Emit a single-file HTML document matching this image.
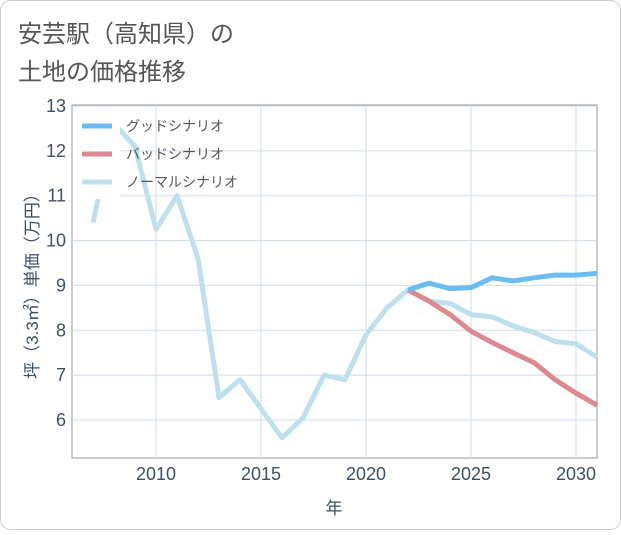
<!DOCTYPE html>
<html><head><meta charset="utf-8"><style>
body{margin:0;background:#fff;font-family:"Liberation Sans","Noto Sans CJK JP",sans-serif}
</style></head><body>
<svg width="621" height="530" xmlns="http://www.w3.org/2000/svg" style="font-family:'Liberation Sans','Noto Sans CJK JP',sans-serif">
<rect x="0.5" y="0.5" width="620" height="529" rx="10" fill="#fff" stroke="#ccc"/>
<text x="18" y="42" font-size="24" fill="#555">安芸駅（高知県）の</text>
<text x="18" y="80" font-size="24" fill="#555">土地の価格推移</text>
<g id="grid"></g><g id="lines"></g><g id="legend"></g>
<text transform="translate(38,282) rotate(-90)" text-anchor="middle" font-size="17" fill="#3d4f66">坪（3.3㎡）単価（万円）</text>
<text x="334" y="514" text-anchor="middle" font-size="17" fill="#3d4f66">年</text>
</svg>
<script>
const years=[2007,2008,2009,2010,2011,2012,2013,2014,2015,2016,2017,2018,2019,2020,2021,2022,2023,2024,2025,2026,2027,2028,2029,2030,2031];
const normal=[10.4,12.6,12.1,10.25,11.0,9.6,6.5,6.9,6.25,5.6,6.05,7.0,6.9,7.9,8.5,8.9,8.65,8.6,8.35,8.3,8.1,7.95,7.75,7.7,7.4];
const goodYears=[2022,2023,2024,2025,2026,2027,2028,2029,2030,2031];
const good=[8.9,9.05,8.93,8.95,9.17,9.1,9.17,9.23,9.23,9.27];
const bad=[8.9,8.65,8.35,7.98,7.73,7.5,7.28,6.9,6.6,6.33];
const yTicks=[6,7,8,9,10,11,12,13];
const xTicks=[2010,2015,2020,2025,2030];
const L=72,R=597,T=106,B=458;
const xs=y=>156+(y-2010)*21;
const ys=v=>420-(v-6)*(314/7);
const NS="http://www.w3.org/2000/svg";
function mk(p,t,a){const e=document.createElementNS(NS,t);for(const k in a)e.setAttribute(k,a[k]);p.appendChild(e);return e;}
const g=document.getElementById('grid');
const f=mk(g,'rect',{x:L,y:T-1,width:R-L,height:B-T+1,fill:'none',stroke:'#999'});


yTicks.forEach(v=>{const l=mk(g,'line',{x1:L,x2:R,y1:ys(v),y2:ys(v),stroke:'#cfdbe6'});


const t=mk(g,'text',{x:L-6,y:ys(v)+6,'text-anchor':'end','font-size':18,fill:'#3d4f66'});t.textContent=v;

});
xTicks.forEach(v=>{const l=mk(g,'line',{x1:xs(v),x2:xs(v),y1:T,y2:B,stroke:'#cfdbe6'});


const t=mk(g,'text',{x:xs(v),y:B+22,'text-anchor':'middle','font-size':18,fill:'#3d4f66'});t.textContent=v;

});
const ln=document.getElementById('lines');
function series(xv,yv,c,n){const p=mk(ln,'polyline',{points:xv.map((x,i)=>xs(x)+','+ys(yv[i])).join(' '),fill:'none',stroke:c,'stroke-width':5,'stroke-linejoin':'round'});

}
series(years,normal,'#bde0ec','normal-line');
series(goodYears,bad,'#dc8a90','bad-line');
series(goodYears,good,'#6bbcf2','good-line');
const lg=document.getElementById('legend');
const bg=mk(lg,'rect',{x:73,y:107,width:47,height:92,fill:'#fff'});


[['グッドシナリオ','#6bbcf2',126],['バッドシナリオ','#dc8a90',154],['ノーマルシナリオ','#bde0ec',182]].forEach(([n,c,y])=>{
const l=mk(lg,'line',{x1:82,x2:112,y1:y,y2:y,stroke:c,'stroke-width':5});


const t=mk(lg,'text',{x:126,y:y+5,'font-size':14,fill:'#555'});t.textContent=n;

});
</script>
</body></html>
